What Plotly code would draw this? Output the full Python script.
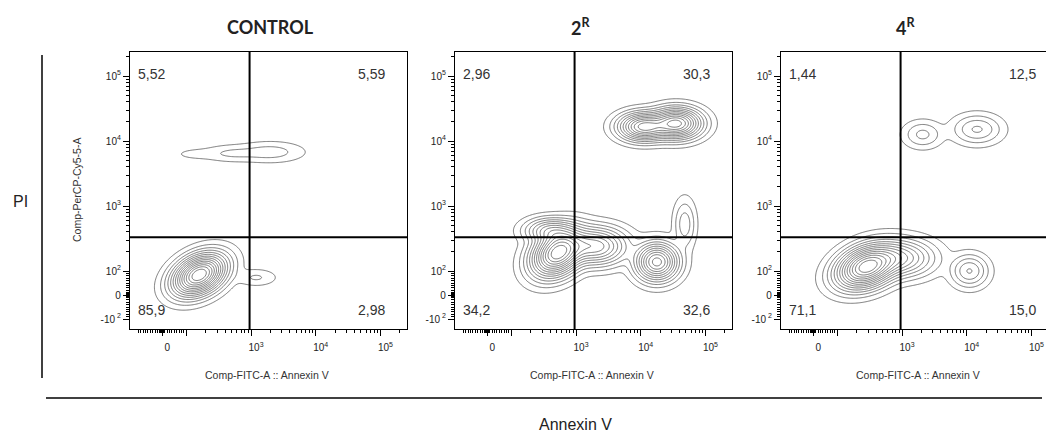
import numpy as np
import plotly.graph_objects as go

W, H = 1046, 432

# ---------------- data ----------------
PANEL_TITLES = ["CONTROL", "2<sup>R</sup>", "4<sup>R</sup>"]
# quadrant percentages: upper-left, upper-right, lower-left, lower-right
QUAD_UL = ["5,52", "2,96", "1,44"]
QUAD_UR = ["5,59", "30,3", "12,5"]
QUAD_LL = ["85,9", "34,2", "71,1"]
QUAD_LR = ["2,98", "32,6", "15,0"]

GATE_ANNEXIN = 950.0   # vertical quadrant gate (FITC)
GATE_PI = 330.0        # horizontal quadrant gate (PerCP-Cy5-5)

# cell populations: centre in fluorescence units, spread in decades,
# correlation and relative peak density
CTRL_ANNEXIN = [158, 1202, 1995, 501, 141]
CTRL_PI = [84, 73, 6761, 6457, 6310]
CTRL_SX = [0.21, 0.17, 0.28, 0.25, 0.20]
CTRL_SY = [0.165, 0.07, 0.085, 0.07, 0.05]
CTRL_RHO = [0.35, 0.0, 0.0, 0.0, 0.0]
CTRL_PEAK = [1.0, 0.02, 0.028, 0.02, 0.008]

R2_ANNEXIN = [525, 1995, 17783, 47863, 35481, 11220, 398]
R2_PI = [191, 240, 138, 525, 18621, 16596, 417]
R2_SX = [0.21, 0.25, 0.17, 0.09, 0.20, 0.20, 0.20]
R2_SY = [0.19, 0.15, 0.15, 0.20, 0.12, 0.11, 0.10]
R2_RHO = [0.3, 0.0, 0.0, 0.0, 0.0, 0.0, 0.0]
R2_PEAK = [1.0, 0.42, 0.6, 0.06, 0.7, 0.6, 0.25]

R4_ANNEXIN = [282, 891, 11000, 2089, 14454]
R4_PI = [115, 158, 100, 12589, 15136]
R4_SX = [0.24, 0.28, 0.15, 0.16, 0.20]
R4_SY = [0.17, 0.15, 0.13, 0.11, 0.12]
R4_RHO = [0.3, 0.0, 0.0, 0.0, 0.0]
R4_PEAK = [1.0, 0.3, 0.12, 0.05, 0.08]

X_MAJOR_VALUES = [0, 100, 1000, 10000, 100000]
X_MAJOR_TEXT = ["0", "", "10<sup>3</sup>", "10<sup>4</sup>", "10<sup>5</sup>"]
Y_MAJOR_VALUES = [-100, 0, 100, 1000, 10000, 100000]
Y_MAJOR_TEXT = ["-10<sup> 2</sup>", "0", "10<sup>2</sup>", "10<sup>3</sup>", "10<sup>4</sup>", "10<sup>5</sup>"]

X_TITLE = "Comp-FITC-A :: Annexin V"
Y_TITLE = "Comp-PerCP-Cy5-5-A"

# ---------------- transform (logicle-like) ----------------
LIN_W = 0.37
N_LEVELS = 15


def to_disp(v):
    v = np.asarray(v, dtype=float)
    pos = np.log10(np.maximum(v, 1e-9))
    neg = (2 - LIN_W) - (np.log10(np.maximum(-v, 1e-9)) - 2) - LIN_W
    lin = (2 - LIN_W) + LIN_W * v / 100.0
    return np.where(v >= 100, pos, np.where(v <= -100, neg, lin))


minor_vals = []
for s in [1, -1]:
    for m in range(10, 100, 10):
        minor_vals.append(s * m)
    for m in [3, 6]:
        minor_vals.append(s * m)
for dec in [100, 1000, 10000]:
    for m in range(2, 10):
        minor_vals.append(m * dec)
minor_vals.append(200000)
minor_x = list(to_disp(minor_vals + [-100]))
minor_y = list(to_disp(minor_vals))

XR = [1.13, 5.41]
YR = [1.108, 5.37]

# ---------------- layout geometry (pixels) ----------------
PANEL_LEFT = [130, 455, 781]
PANEL_W = 277
TOP, BOTTOM = 52, 329


def px(x):
    return x / W


def py(y):
    return 1 - y / H


fig = go.Figure()

gx = np.linspace(XR[0], XR[1], 340)
gy = np.linspace(YR[0], YR[1], 340)
GX, GY = np.meshgrid(gx, gy)

pops = [
    (CTRL_ANNEXIN, CTRL_PI, CTRL_SX, CTRL_SY, CTRL_RHO, CTRL_PEAK),
    (R2_ANNEXIN, R2_PI, R2_SX, R2_SY, R2_RHO, R2_PEAK),
    (R4_ANNEXIN, R4_PI, R4_SX, R4_SY, R4_RHO, R4_PEAK),
]

for i, (ax_, ay_, sx_, sy_, rho_, pk_) in enumerate(pops):
    cx = to_disp(ax_)
    cy = to_disp(ay_)
    d = np.zeros_like(GX)
    for k in range(len(pk_)):
        u = (GX - cx[k]) / sx_[k]
        v = (GY - cy[k]) / sy_[k]
        r = rho_[k]
        q = (u * u - 2 * r * u * v + v * v) / (2 * (1 - r * r))
        d += pk_[k] * np.exp(-q)
    z = np.sqrt(d / d.max())
    n = "" if i == 0 else str(i + 1)
    fig.add_trace(go.Contour(
        x=gx, y=gy, z=z,
        contours=dict(coloring="lines", start=1.0 / N_LEVELS,
                      end=(N_LEVELS - 0.5) / N_LEVELS, size=1.0 / N_LEVELS),
        line=dict(width=0.9, smoothing=1),
        colorscale=[[0, "#666666"], [1, "#666666"]],
        showscale=False, hoverinfo="skip",
        xaxis="x" + n, yaxis="y" + n,
    ))

    left = PANEL_LEFT[i]
    right = min(left + PANEL_W, W)
    xr = [XR[0], XR[0] + (right - left) / PANEL_W * (XR[1] - XR[0])]
    common_tick = dict(ticks="outside", ticklen=6, tickwidth=1, tickcolor="black",
                       showgrid=False, zeroline=False, showline=True, linecolor="black",
                       linewidth=1.2,
                       tickfont=dict(family="Liberation Sans", size=10, color="#222"))
    fig.update_layout(**{
        "xaxis" + n: dict(domain=[px(left), px(right)], range=xr, anchor="y" + n,
                          tickmode="array", tickvals=list(to_disp(X_MAJOR_VALUES)),
                          ticktext=X_MAJOR_TEXT, mirror=True,
                          ticklabelshift=5, ticklabelstandoff=3,
                          minor=dict(tickvals=minor_x, ticklen=3, tickwidth=1,
                                     tickcolor="black", ticks="outside", showgrid=False),
                          **common_tick),
        "yaxis" + n: dict(domain=[py(BOTTOM), py(TOP)], range=YR, anchor="x" + n,
                          tickmode="array", tickvals=list(to_disp(Y_MAJOR_VALUES)),
                          ticktext=Y_MAJOR_TEXT, mirror=(i < 2),
                          minor=dict(tickvals=minor_y, ticklen=3, tickwidth=1,
                                     tickcolor="black", ticks="outside", showgrid=False),
                          **common_tick),
    })

    xa = "x" + n
    ya = "y" + n
    gxv = float(to_disp(GATE_ANNEXIN))
    gyv = float(to_disp(GATE_PI))
    fig.add_shape(type="line", xref=xa, yref=ya + " domain", x0=gxv, x1=gxv, y0=0, y1=1,
                  line=dict(color="black", width=2))
    fig.add_shape(type="line", xref=xa + " domain", yref=ya, x0=0, x1=1, y0=gyv, y1=gyv,
                  line=dict(color="black", width=2))

    qfont = dict(family="Liberation Sans", size=14, color="#333")
    lx = px(left + 6)
    rx = px(left + 257)
    fig.add_annotation(x=lx, y=py(74), xref="paper", yref="paper", text=QUAD_UL[i],
                       showarrow=False, xanchor="left", yanchor="middle", font=qfont)
    fig.add_annotation(x=rx, y=py(74), xref="paper", yref="paper", text=QUAD_UR[i],
                       showarrow=False, xanchor="right", yanchor="middle", font=qfont)
    fig.add_annotation(x=lx, y=py(310), xref="paper", yref="paper", text=QUAD_LL[i],
                       showarrow=False, xanchor="left", yanchor="middle", font=qfont)
    fig.add_annotation(x=rx, y=py(310), xref="paper", yref="paper", text=QUAD_LR[i],
                       showarrow=False, xanchor="right", yanchor="middle", font=qfont)

    fig.add_annotation(x=px(left + 137), y=py(375), xref="paper", yref="paper",
                       text=X_TITLE, showarrow=False, xanchor="center", yanchor="middle",
                       font=dict(family="Liberation Sans", size=10.5, color="#333"))

title_x = [270, 580, 905]
for i, t in enumerate(PANEL_TITLES):
    fig.add_annotation(x=px(title_x[i]), y=py(27), xref="paper", yref="paper",
                       text="<b>" + t + "</b>", showarrow=False, xanchor="center",
                       yanchor="middle", font=dict(family="Lato", size=18, color="#222"))

fig.add_annotation(x=px(77), y=py(190), xref="paper", yref="paper", text=Y_TITLE,
                   textangle=-90, showarrow=False, xanchor="center", yanchor="middle",
                   font=dict(family="Liberation Sans", size=10.5, color="#333"))
fig.add_annotation(x=px(20), y=py(201), xref="paper", yref="paper", text="PI",
                   showarrow=False, xanchor="center", yanchor="middle",
                   font=dict(family="Liberation Sans", size=16, color="#222"))
fig.add_annotation(x=px(575), y=py(424), xref="paper", yref="paper", text="Annexin V",
                   showarrow=False, xanchor="center", yanchor="middle",
                   font=dict(family="Liberation Sans", size=16, color="#222"))

fig.add_shape(type="line", xref="paper", yref="paper", x0=px(42), x1=px(42),
              y0=py(55), y1=py(378), line=dict(color="black", width=1.5))
fig.add_shape(type="line", xref="paper", yref="paper", x0=px(46), x1=px(1042),
              y0=py(398), y1=py(398), line=dict(color="black", width=1.5))

fig.update_layout(width=W, height=H, margin=dict(l=0, r=0, t=0, b=0),
                  paper_bgcolor="white", plot_bgcolor="white", showlegend=False)

fig.write_html("out.html", config={"displayModeBar": False},
               post_script="document.body.style.margin='0';document.body.style.overflow='hidden';")
